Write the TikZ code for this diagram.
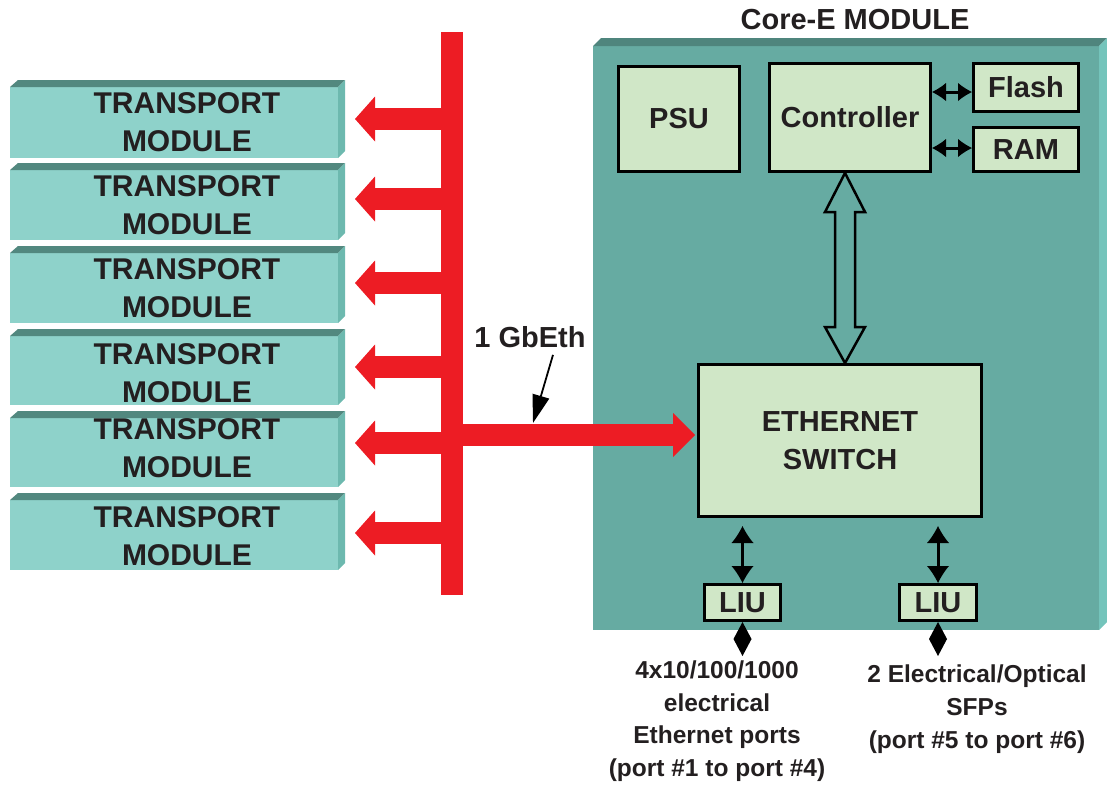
\documentclass[tikz,border=0pt]{standalone}
\usepackage{fontspec}
\setmainfont{Liberation Sans}
\usetikzlibrary{arrows.meta,calc}
\definecolor{tfront}{HTML}{8ED2CA}
\definecolor{ttop}{HTML}{52887F}
\definecolor{tside}{HTML}{6DB9AF}
\definecolor{cfront}{HTML}{66ABA2}
\definecolor{ctop}{HTML}{4F857D}
\definecolor{cside}{HTML}{74C4BB}
\definecolor{boxfill}{HTML}{D0E7C7}
\definecolor{busred}{HTML}{ED1C24}
\definecolor{txt}{HTML}{231F20}
\begin{document}
\begin{tikzpicture}[x=1pt,y=-1pt,
  lbl/.style={font=\bfseries\fontsize{29}{33}\selectfont, text=txt, inner sep=0pt},
  blk/.style={lbl, draw=black, line width=3pt, fill=boxfill},
  tmfront/.style={fill=tfront, inner sep=0pt, outer sep=0pt},
  tmlabel/.style={font=\bfseries\fontsize{30}{38}\selectfont, text=txt, align=center, inner sep=0pt},
  portlabel/.style={font=\bfseries\fontsize{24.5}{32.7}\selectfont, text=txt, align=center, inner sep=0pt},
  redarrow/.style={busred, line width=22pt, -{Triangle[length=20pt,width=45pt,line width=0pt]}},
  redarrowbig/.style={busred, line width=22pt, -{Triangle[length=22pt,width=44pt,line width=0pt]}},
  dblarrow/.style={black, line width=3pt, {Latex[length=14pt,width=18pt,line width=0pt]}-{Latex[length=14pt,width=18pt,line width=0pt]}},
  vdblarrow/.style={black, line width=3pt, {Latex[length=17pt,width=22pt,line width=0pt]}-{Latex[length=17pt,width=22pt,line width=0pt]}},
  diamarrow/.style={black, line width=3pt, {Triangle[length=17pt,width=18pt,line width=0pt]}-{Triangle[length=17pt,width=18pt,line width=0pt]}},
  pointer/.style={black, line width=1.8pt, -{Triangle[length=28pt,width=17pt]}},
  hollow/.style={draw=black, line width=2.5pt, fill=cfront, line join=miter},
]
\useasboundingbox (0,0) rectangle (1107,788);

% Core-E module body
\node[fill=cfront, inner sep=0pt, outer sep=0pt, minimum width=506, minimum height=584] (core) at (846,338) {};
\fill[ctop] (core.north west) -- ++(8,-8) -- ($(core.north east)+(8,-8)$) -- (core.north east) -- cycle;
\fill[cside] (core.north east) -- ++(8,-8) -- ($(core.south east)+(8,-8)$) -- (core.south east) -- cycle;
\node[lbl] (title) at (855,20) {Core-E MODULE};

% Transport modules
\foreach \i/\t/\b/\ty in {1/87/158/122, 2/170/240/205.5, 3/253/323/288.5, 4/336/405/373.5, 5/418/487/448.5, 6/500/570/536}{
  \node[tmfront, minimum width=328, minimum height={(\b-\t)*1pt}] (tm\i) at (174,{(\t+\b)/2}) {};
  \fill[ttop] (tm\i.north west) -- ++(8,-7) -- ($(tm\i.north east)+(7,-7)$) -- (tm\i.north east) -- cycle;
  \fill[tside] (tm\i.north east) -- ++(7,-7) -- ($(tm\i.south east)+(7,-7)$) -- (tm\i.south east) -- cycle;
  \node[tmlabel] (tml\i) at (187,\ty) {TRANSPORT\\MODULE};
}

% Red bus
\node[fill=busred, inner sep=0pt, outer sep=0pt, minimum width=22, minimum height=563] (bus) at (452,313.5) {};
\foreach \i/\ay in {1/119, 2/199, 3/283, 4/367, 5/443, 6/533}{
  \draw[redarrow] (bus.center |- 0,\ay) -- ($(tm\i.east |- 0,\ay)+(17,0)$);
}

% Inner blocks
\node[blk, minimum width=121, minimum height=105] (psu) at (679,119) {PSU};
\node[blk, minimum width=161, minimum height=108] (ctrl) at (850,117.5) {Controller};
\node[blk, minimum width=105, minimum height=48] (flash) at (1026,87.5) {Flash};
\node[blk, minimum width=105, minimum height=44] (ram) at (1026,149.5) {RAM};
\node[blk, minimum width=283, minimum height=152, align=center, font=\bfseries\fontsize{29}{38}\selectfont] (sw) at (840,440.5) {ETHERNET\\SWITCH};
\node[blk, minimum width=76, minimum height=36] (liu1) at (742.5,602.5) {LIU};
\node[blk, minimum width=77, minimum height=36] (liu2) at (938,602.5) {LIU};

% Bus to switch
\draw[redarrowbig] (bus.center |- 0,435) -- ($(sw.west |- 0,435)+(-2,0)$);

% 1 GbEth label and pointer
\node[lbl] (gb) at (530,337) {1 GbEth};
\coordinate (gbtip) at (533,423);
\draw[pointer] ($(gb.south)+(23,7)$) -- (gbtip);

% Controller links
\draw[dblarrow] (ctrl.east |- 0,92) -- (flash.west |- 0,92);
\draw[dblarrow] (ctrl.east |- 0,148) -- (ram.west |- 0,148);
\draw[hollow] (845,173) -- (865,212) -- (855,212) -- (855,327) -- (865,327) -- (845,363)
  -- (825,327) -- (835,327) -- (835,212) -- (825,212) -- cycle;

% Switch to LIUs
\draw[vdblarrow] ($(sw.south -| liu1.north)+(0,8)$) -- (liu1.north);
\draw[vdblarrow] ($(sw.south -| liu2.north)+(0,8)$) -- (liu2.north);
\draw[diamarrow] (liu1.south) -- ++(0,34);
\draw[diamarrow] (liu2.south) -- ++(0,34);

% Port labels
\node[portlabel] (pl1) at (717,721) {4x10/100/1000\\electrical\\Ethernet ports\\(port \#1 to port \#4)};
\node[portlabel] (pl2) at (977,709) {2 Electrical/Optical\\SFPs\\(port \#5 to port \#6)};
\end{tikzpicture}
\end{document}
